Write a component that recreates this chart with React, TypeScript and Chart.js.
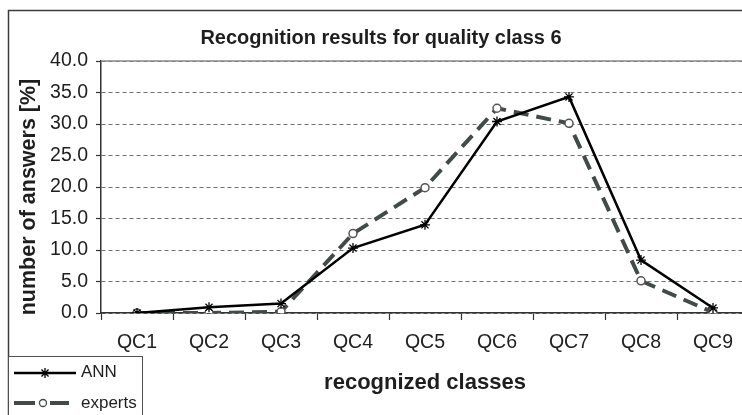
import React, { useEffect, useRef } from "react";
import { Chart, registerables } from "chart.js";

Chart.register(...registerables);

const TITLE = "Recognition results for quality class 6";
const X_TITLE = "recognized classes";
const Y_TITLE = "number of answers [%]";
const CATEGORIES = ["QC1", "QC2", "QC3", "QC4", "QC5", "QC6", "QC7", "QC8", "QC9"];
const ANN = [0.0, 0.9, 1.5, 10.3, 14.0, 30.4, 34.3, 8.4, 0.8];
const EXPERTS = [0.0, 0.0, 0.2, 12.6, 19.9, 32.5, 30.1, 5.1, 0.1];
const SERIES_NAMES = ["ANN", "experts"];
const Y_MIN = 0;
const Y_MAX = 40;
const Y_STEP = 5;

const FONT = "'Liberation Sans', Arial, Helvetica, sans-serif";
const TEXT = "#1e1e1e";
const EXP_COLOR = "#424a4a";

function drawStar(ctx: CanvasRenderingContext2D, x: number, y: number, r: number) {
  ctx.beginPath();
  for (let k = 0; k < 4; k++) {
    const a = (Math.PI / 4) * k;
    ctx.moveTo(x - r * Math.cos(a), y - r * Math.sin(a));
    ctx.lineTo(x + r * Math.cos(a), y + r * Math.sin(a));
  }
  ctx.stroke();
}

const decorPlugin = {
  id: "decor",
  beforeDraw(chart: any) {
    const ctx = chart.ctx as CanvasRenderingContext2D;
    ctx.save();
    ctx.fillStyle = "#ffffff";
    ctx.fillRect(0, 0, chart.width, chart.height);
    ctx.strokeStyle = "#3c3c3c";
    ctx.lineWidth = 1.5;
    ctx.beginPath();
    ctx.moveTo(8.5, chart.height + 5);
    ctx.lineTo(8.5, 10.5);
    ctx.lineTo(chart.width + 5, 10.5);
    ctx.stroke();
    ctx.fillStyle = TEXT;
    ctx.font = `bold 20px ${FONT}`;
    ctx.textAlign = "center";
    ctx.textBaseline = "middle";
    ctx.fillText(TITLE, 381, 38);
    // y axis title
    ctx.save();
    ctx.translate(29, 197);
    ctx.rotate(-Math.PI / 2);
    ctx.font = `bold 21.5px ${FONT}`;
    ctx.fillText(Y_TITLE, 0, 0);
    ctx.restore();
    ctx.restore();
  },
  afterDraw(chart: any) {
    const ctx = chart.ctx as CanvasRenderingContext2D;
    const area = chart.chartArea;
    ctx.save();
    ctx.strokeStyle = "#8a8a8a";
    ctx.lineWidth = 1.5;
    ctx.beginPath();
    ctx.moveTo(area.left, area.top);
    ctx.lineTo(area.right, area.top);
    ctx.stroke();

    ctx.fillStyle = "#ffffff";
    ctx.fillRect(8.5, 356.5, 134, 70);
    ctx.strokeStyle = "#505050";
    ctx.lineWidth = 1;
    ctx.strokeRect(8.5, 356.5, 134, 70);

    ctx.strokeStyle = "#000";
    ctx.lineWidth = 2.5;
    ctx.beginPath();
    ctx.moveTo(14, 373);
    ctx.lineTo(76, 373);
    ctx.stroke();
    ctx.lineWidth = 1.3;
    drawStar(ctx, 45, 373, 5);

    ctx.strokeStyle = EXP_COLOR;
    ctx.lineWidth = 4;
    ctx.beginPath();
    ctx.moveTo(14, 403);
    ctx.lineTo(35, 403);
    ctx.moveTo(50, 403);
    ctx.lineTo(69, 403);
    ctx.stroke();
    ctx.lineWidth = 1.3;
    ctx.fillStyle = "#fff";
    ctx.beginPath();
    ctx.arc(43, 403, 3.5, 0, Math.PI * 2);
    ctx.fill();
    ctx.stroke();

    ctx.fillStyle = TEXT;
    ctx.font = `17px ${FONT}`;
    ctx.textAlign = "left";
    ctx.textBaseline = "middle";
    ctx.fillText(SERIES_NAMES[0], 81, 372);
    ctx.fillText(SERIES_NAMES[1], 81, 403);
    ctx.restore();
  },
};

export default function App() {
  const ref = useRef<HTMLCanvasElement | null>(null);

  useEffect(() => {
    if (!ref.current) return;
    const chart = new Chart(ref.current, {
      type: "line",
      data: {
        labels: CATEGORIES,
        datasets: [
          {
            label: SERIES_NAMES[0],
            data: ANN,
            borderColor: "#000000",
            backgroundColor: "#000000",
            borderWidth: 2.5,
            pointStyle: "star",
            pointRadius: 5,
            pointBorderColor: "#000000",
            pointBorderWidth: 1.3,
            tension: 0,
          },
          {
            label: SERIES_NAMES[1],
            data: EXPERTS,
            borderColor: EXP_COLOR,
            backgroundColor: "#ffffff",
            borderWidth: 4,
            borderDash: [15, 8],
            pointStyle: "circle",
            pointRadius: 4,
            pointBackgroundColor: "#ffffff",
            pointBorderColor: "#555555",
            pointBorderWidth: 1.5,
            tension: 0,
          },
        ],
      },
      options: {
        responsive: false,
        animation: false,
        devicePixelRatio: 1,
        layout: { padding: { left: 0, right: 51, top: 61, bottom: 0 } },
        plugins: {
          legend: { display: false },
          title: { display: false },
          tooltip: { enabled: false },
        },
        scales: {
          x: {
            type: "category",
            offset: true,
            grid: {
              offset: true,
              drawOnChartArea: false,
              drawTicks: true,
              tickLength: 7,
              tickColor: "#333",
              tickWidth: 1.2,
            },
            border: { display: true, color: "#333", width: 1.5 },
            ticks: {
              color: TEXT,
              font: { size: 19.5, family: FONT },
              padding: 11,
              maxRotation: 0,
              autoSkip: false,
            },
            title: {
              display: true,
              text: X_TITLE,
              color: TEXT,
              font: { size: 22, weight: "bold", family: FONT, lineHeight: 1 },
              padding: { top: 0, bottom: 21 },
            },
            afterFit: (s: any) => {
              s.height = 102;
            },
          },
          y: {
            min: Y_MIN,
            max: Y_MAX,
            grid: {
              color: "#707070",
              lineWidth: 1,
              drawTicks: true,
              tickLength: 5,
              tickColor: "#333",
              tickWidth: 1.2,
              tickBorderDash: [],
            },
            border: { display: true, color: "#333", width: 1.5, dash: [4, 3] },
            ticks: {
              stepSize: Y_STEP,
              color: TEXT,
              font: { size: 19.5, family: FONT },
              padding: 8,
              callback: (v: any) => Number(v).toFixed(1),
            },
            title: { display: false },
            afterFit: (s: any) => {
              s.width = 101;
            },
          },
        },
      },
      plugins: [decorPlugin],
    });
    return () => chart.destroy();
  }, []);

  return (
    <div
      style={{
        position: "fixed",
        left: 0,
        top: 0,
        width: 742,
        height: 415,
        overflow: "hidden",
        background: "#fff",
      }}
    >
      <canvas ref={ref} width={800} height={415} style={{ display: "block" }} />
    </div>
  );
}
